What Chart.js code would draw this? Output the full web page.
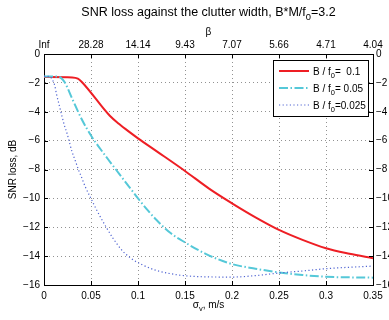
<!DOCTYPE html>
<html><head><meta charset="utf-8">
<script src="https://cdn.jsdelivr.net/npm/chart.js@4/dist/chart.umd.min.js"></script>
<style>html,body{margin:0;padding:0;background:#fff;overflow:hidden}canvas{display:block}</style>
</head><body>
<canvas id="c" width="389" height="320"></canvas>
<script>
// ---- data ----
const redX  = [0, 0.03, 0.036, 0.04, 0.07, 0.08, 0.09, 0.1, 0.12, 0.15, 0.176, 0.2, 0.225, 0.25, 0.275, 0.3, 0.325, 0.35];
const redY  = [-1.6, -1.62, -1.7, -1.92, -4.28, -4.85, -5.36, -5.84, -6.74, -8.1, -9.34, -10.34, -11.31, -12.18, -12.87, -13.45, -13.83, -14.14];
const cyanX = [0, 0.013, 0.018, 0.022, 0.03, 0.04, 0.05, 0.06, 0.07, 0.08, 0.09, 0.1, 0.11, 0.12, 0.135, 0.15, 0.1725, 0.2, 0.225, 0.25, 0.275, 0.3, 0.35];
const cyanY = [-1.55, -1.55, -1.65, -1.95, -3.1, -4.5, -5.65, -6.58, -7.45, -8.3, -9.15, -10.0, -10.8, -11.52, -12.42, -13.05, -13.86, -14.55, -14.87, -15.13, -15.31, -15.43, -15.49];
const blueX = [0, 0.006, 0.009, 0.0115, 0.0131, 0.0166, 0.0191, 0.0216, 0.0245, 0.0272, 0.0298, 0.0333, 0.0368, 0.0404, 0.0439, 0.049, 0.0552, 0.0611, 0.0664, 0.0733, 0.0837, 0.094, 0.1045, 0.1185, 0.135, 0.15, 0.175, 0.2, 0.225, 0.25, 0.275, 0.3, 0.35];
const blueY = [-1.55, -1.56, -1.8, -2.2, -2.72, -3.65, -4.3, -4.92, -5.5, -6.15, -6.77, -7.39, -8.04, -8.61, -9.2, -9.88, -10.7, -11.42, -12.02, -12.75, -13.65, -14.22, -14.6, -14.97, -15.22, -15.36, -15.44, -15.45, -15.35, -15.17, -15.03, -14.87, -14.69];
const betaLabels = ['Inf', '28.28', '14.14', '9.43', '7.07', '5.66', '4.71', '4.04'];
const seriesNames = [['B / f', '0', '=  0.1'], ['B / f', '0', '= 0.05'], ['B / f', '0', '=0.025']];

const FONT = '"Liberation Sans", Arial, Helvetica, sans-serif';
const pts = (xs, ys) => xs.map((x, i) => ({x: x, y: ys[i]}));
const minus = v => String(v).replace('-', '\u2212');

function drawParts(ctx, parts, x, y, size, align) {
  const sub = size * 0.75;
  let w = 0;
  parts.forEach(p => { ctx.font = (p[1] ? sub : size) + 'px ' + FONT; w += ctx.measureText(p[0]).width; });
  let cx = align === 'center' ? x - w / 2 : x;
  ctx.textAlign = 'left'; ctx.textBaseline = 'alphabetic';
  parts.forEach(p => {
    ctx.font = (p[1] ? sub : size) + 'px ' + FONT;
    ctx.fillText(p[0], cx, p[1] ? y + size * 0.3 : y);
    cx += ctx.measureText(p[0]).width;
  });
}

const decor = {
  id: 'decor',
  afterDraw(chart) {
    const ctx = chart.ctx, a = chart.chartArea;
    const sx = chart.scales.x, sy = chart.scales.y;
    ctx.save();
    // inward ticks
    ctx.strokeStyle = '#000'; ctx.lineWidth = 1;
    ctx.beginPath();
    sx.ticks.forEach(t => {
      const p = Math.round(sx.getPixelForValue(t.value)) + 0.5;
      ctx.moveTo(p, a.bottom); ctx.lineTo(p, a.bottom - 4);
      ctx.moveTo(p, a.top); ctx.lineTo(p, a.top + 4);
    });
    sy.ticks.forEach(t => {
      const p = Math.round(sy.getPixelForValue(t.value)) + 0.5;
      ctx.moveTo(a.left, p); ctx.lineTo(a.left + 4, p);
      ctx.moveTo(a.right, p); ctx.lineTo(a.right - 4, p);
    });
    ctx.stroke();
    ctx.fillStyle = '#000';
    const cx = (a.left + a.right) / 2;
    drawParts(ctx, [['SNR loss against the clutter width, B*M/f', 0], ['0', 1], ['=3.2', 0]], cx, 16, 12.5, 'center');
    drawParts(ctx, [['\u03B2', 0]], cx, 35, 10, 'center');
    drawParts(ctx, [['\u03C3', 0], ['v', 1], [', m/s', 0]], cx, 308, 10, 'center');
    ctx.save();
    ctx.translate(13, (a.top + a.bottom) / 2);
    ctx.rotate(-Math.PI / 2);
    ctx.font = '10px ' + FONT; ctx.textAlign = 'center'; ctx.textBaseline = 'middle';
    ctx.fillText('SNR loss, dB', 0, 0);
    ctx.restore();
    // legend
    const lx = 273.5, ly = 60.5, lw = 95, lh = 56;
    ctx.fillStyle = '#fff'; ctx.fillRect(lx, ly, lw, lh);
    ctx.strokeStyle = '#000'; ctx.lineWidth = 1; ctx.setLineDash([]);
    ctx.strokeRect(lx, ly, lw, lh);
    const rows = [71, 88, 105];
    chart.data.datasets.forEach((ds, i) => {
      ctx.save();
      ctx.strokeStyle = ds.borderColor; ctx.lineWidth = ds.borderWidth;
      ctx.setLineDash(ds.borderDash || []);
      ctx.beginPath(); ctx.moveTo(279, rows[i]); ctx.lineTo(309, rows[i]); ctx.stroke();
      ctx.restore();
      ctx.fillStyle = '#000';
      const n = seriesNames[i];
      drawParts(ctx, [[n[0], 0], [n[1], 1], [n[2], 0]], 313, rows[i] + 3.5, 10, 'left');
    });
    ctx.restore();
  }
};

const gridCommon = { color: '#929292', lineWidth: 1, drawTicks: false };
const borderCommon = { color: '#000', width: 1, dash: [1, 3] };
const tickFont = { family: FONT, size: 10 };

new Chart(document.getElementById('c'), {
  type: 'line',
  data: {
    datasets: [
      { data: pts(redX, redY), borderColor: 'rgb(238,30,36)', borderWidth: 2, order: 3 },
      { data: pts(cyanX, cyanY), borderColor: 'rgb(85,200,216)', borderWidth: 2, borderDash: [9, 2.5, 1.5, 2.5], order: 2 },
      { data: pts(blueX, blueY), borderColor: 'rgb(80,100,210)', borderWidth: 1.2, borderDash: [1.2, 2.4], order: 1 }
    ]
  },
  options: {
    responsive: false, animation: false,
    layout: { padding: 0 },
    elements: { point: { radius: 0 }, line: { cubicInterpolationMode: 'monotone', fill: false } },
    plugins: { legend: { display: false }, title: { display: false }, tooltip: { enabled: false } },
    scales: {
      x: {
        type: 'linear', position: 'bottom', min: 0, max: 0.35,
        grid: gridCommon, border: borderCommon,
        ticks: { stepSize: 0.05, font: tickFont, color: '#000', padding: 5, maxRotation: 0, autoSkip: false,
                 callback: v => String(Number(v.toFixed(2))) },
        afterFit: s => { s.height = 35; }
      },
      x2: {
        type: 'linear', position: 'top', min: 0, max: 0.35,
        grid: { display: false, drawTicks: false }, border: { color: '#000', width: 1 },
        ticks: { stepSize: 0.05, font: tickFont, color: '#000', padding: 3, maxRotation: 0, autoSkip: false,
                 callback: (v, i) => betaLabels[i] },
        afterFit: s => { s.height = 54; }
      },
      y: {
        type: 'linear', position: 'left', min: -16, max: 0,
        grid: gridCommon, border: borderCommon,
        ticks: { stepSize: 2, font: tickFont, color: '#000', padding: 4, callback: v => minus(v) },
        afterFit: s => { s.width = 44; }
      },
      y2: {
        type: 'linear', position: 'right', min: -16, max: 0,
        grid: { display: false, drawTicks: false }, border: { color: '#000', width: 1 },
        ticks: { stepSize: 2, font: tickFont, color: '#000', padding: 3, callback: v => minus(v) },
        afterFit: s => { s.width = 16; }
      }
    }
  },
  plugins: [decor]
});
</script>
</body></html>
